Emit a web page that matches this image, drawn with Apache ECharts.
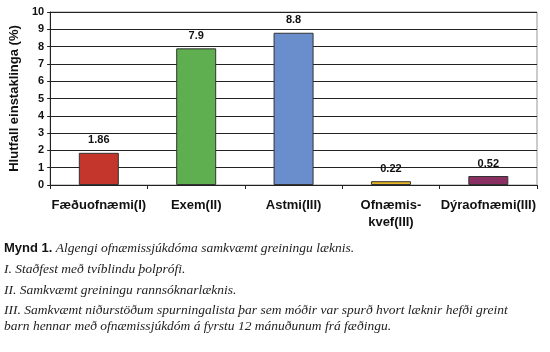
<!DOCTYPE html>
<html>
<head>
<meta charset="utf-8">
<script src="https://cdn.jsdelivr.net/npm/echarts@6/dist/echarts.min.js"></script>
<style>
  html, body { margin: 0; padding: 0; background: #fff; }
  #chart { width: 550px; height: 352px; }
</style>
</head>
<body>
<div id="chart"></div>
<script>
// flokkar og gildi
const categories = ['Fæðuofnæmi(I)', 'Exem(II)', 'Astmi(III)', 'Ofnæmis-\nkvef(III)', 'Dýraofnæmi(III)']
const values = [1.86, 7.9, 8.8, 0.22, 0.52]
const barColors = ['#c4352b', '#5fae4f', '#6a8dcc', '#e6b426', '#8a2f62']
const captionLines = [
  'I. Staðfest með tvíblindu þolprófi.',
  'II. Samkvæmt greiningu rannsóknarlæknis.',
  'III. Samkvæmt niðurstöðum spurningalista þar sem móðir var spurð hvort læknir hefði greint',
  'barn hennar með ofnæmissjúkdóm á fyrstu 12 mánuðunum frá fæðingu.'
]

const myChart = echarts.init(document.getElementById('chart'))
const serif = '"Liberation Serif", "DejaVu Serif", serif'
const sans = '"Liberation Sans", Arial, sans-serif'

const captionY = [270, 291, 311, 327]
const graphics = [
  {
    type: 'text',
    left: 4,
    top: 241,
    style: {
      text: '{b|Mynd 1.} {i|Algengi ofnæmissjúkdóma samkvæmt greiningu læknis.}',
      rich: {
        b: { fontFamily: sans, fontWeight: 'bold', fontSize: 13, fill: '#111' },
        i: { fontFamily: serif, fontStyle: 'italic', fontSize: 13.5, fill: '#222' }
      }
    }
  }
]
captionLines.forEach((t, i) => {
  graphics.push({
    type: 'text',
    left: 4,
    top: captionY[i] - 8,
    style: { text: t, fontFamily: serif, fontStyle: 'italic', fontSize: 13.5, fill: '#222' }
  })
})

const option = {
  animation: false,
  grid: { left: 45, right: 13, top: 12, bottom: 167, containLabel: false, show: true, borderColor: '#999', borderWidth: 1 },
  xAxis: {
    type: 'category',
    data: categories,
    axisLine: { lineStyle: { color: '#222', width: 1 } },
    axisTick: { show: true, length: 4, lineStyle: { color: '#222' } },
    axisLabel: {
      interval: 0,
      margin: 12,
      fontFamily: sans,
      fontWeight: 'bold',
      fontSize: 13,
      color: '#111',
      lineHeight: 17
    }
  },
  yAxis: {
    type: 'value',
    min: 0,
    max: 10,
    interval: 1,
    name: 'Hlutfall einstaklinga (%)',
    nameLocation: 'middle',
    nameGap: 29,
    nameTextStyle: { fontFamily: sans, fontWeight: 'bold', fontSize: 13, color: '#111' },
    axisLine: { show: true, lineStyle: { color: '#222' } },
    axisTick: { show: true, length: 3, lineStyle: { color: '#222' } },
    axisLabel: { fontFamily: sans, fontWeight: 'bold', fontSize: 11, color: '#111', margin: 6 },
    splitLine: { lineStyle: { color: '#222', width: 1 } }
  },
  series: [
    {
      type: 'bar',
      barWidth: 40,
      data: values.map((v, i) => ({
        value: v,
        itemStyle: { color: barColors[i], borderColor: '#333', borderWidth: 1 }
      })),
      label: {
        show: true,
        position: 'top',
        distance: 7,
        fontFamily: sans,
        fontWeight: 'bold',
        fontSize: 11,
        color: '#111'
      }
    }
  ],
  graphic: graphics
}

myChart.setOption(option)
</script>
</body>
</html>
